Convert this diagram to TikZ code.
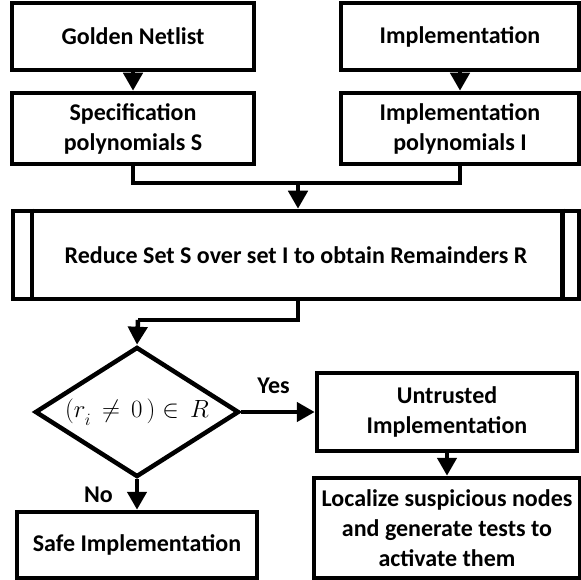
\documentclass[tikz,border=0pt]{standalone}
\usepackage{fontspec}
\setmainfont{Carlito}
\usepackage{tikz}
\usetikzlibrary{positioning,shapes.geometric,arrows.meta}
\definecolor{flowink}{RGB}{0,0,0}
\tikzset{
  flowbox/.style={draw=flowink,line width=4.5pt,inner sep=2pt,align=center,
    font=\fontsize{24}{30}\selectfont\bfseries},
  flowline/.style={draw=flowink,line width=4.5pt},
  flowarrow/.style={flowline,-{Triangle[width=19pt,length=18pt]}},
  flowlabel/.style={inner sep=0pt,font=\fontsize{24}{30}\selectfont\bfseries}
}

\begin{document}
\begin{tikzpicture}[x=1pt,y=-1pt]
\useasboundingbox (0,0) rectangle (581,580);
\node[flowbox,minimum width=242pt,minimum height=67pt] (golden) at (133,36.5) {Golden Netlist};
\node[flowbox,minimum width=242pt,minimum height=71pt] (spec) at (133,128.5) {Specification\\polynomials $\mathbf{S}$};
\node[flowbox,minimum width=238pt,minimum height=67pt] (impl) at (460,36.5) {Implementation};
\node[flowbox,minimum width=238pt,minimum height=71pt] (implpoly) at (460,128.5) {Implementation\\polynomials $\mathbf{I}$};
\node[flowbox,minimum width=566pt,minimum height=88pt] (reduce) at (296,255) {Reduce Set S over set I to obtain Remainders R};
\draw[flowline] ([xshift=21pt]reduce.north west) -- ([xshift=21pt]reduce.south west);
\draw[flowline] ([xshift=-19pt]reduce.north east) -- ([xshift=-19pt]reduce.south east);
\node[draw=flowink,line width=4.5pt,diamond,aspect=1.57,minimum width=204pt,minimum height=130pt,inner sep=0pt] (check) at (137,412)
  {\fontsize{25}{30}\selectfont$(r_{\raisebox{-4pt}{$\scriptstyle i$}}\,\neq\,0\,)\in\,R$};
\node[flowbox,minimum width=240pt,minimum height=66pt] (safe) at (137,545) {Safe Implementation};
\node[flowbox,minimum width=260pt,minimum height=78pt] (untrusted) at (447,412) {Untrusted\\Implementation};
\node[flowbox,minimum width=266pt,minimum height=100pt] (localize) at (447,528) {Localize suspicious nodes\\and generate tests to\\activate them};
\coordinate (merge) at (298,183);
\coordinate (turn) at (138,320);
\draw[flowarrow] (golden) -- (spec);
\draw[flowarrow] (impl) -- (implpoly);
\draw[flowline] (spec) |- (merge);
\draw[flowline] (implpoly) |- (merge);
\draw[flowarrow] (merge) -- (merge |- reduce.north);
\draw[flowline] (reduce.south -| merge) |- (turn);
\draw[flowarrow] (turn) -- (check.north);
\draw[flowarrow] (check) -- node[flowlabel,pos=0.44,above=16pt] {Yes} (untrusted);
\draw[flowarrow] (check) -- node[flowlabel,left=22pt] {No} (safe);
\draw[flowarrow] (untrusted) -- (localize);
\end{tikzpicture}
\end{document}
